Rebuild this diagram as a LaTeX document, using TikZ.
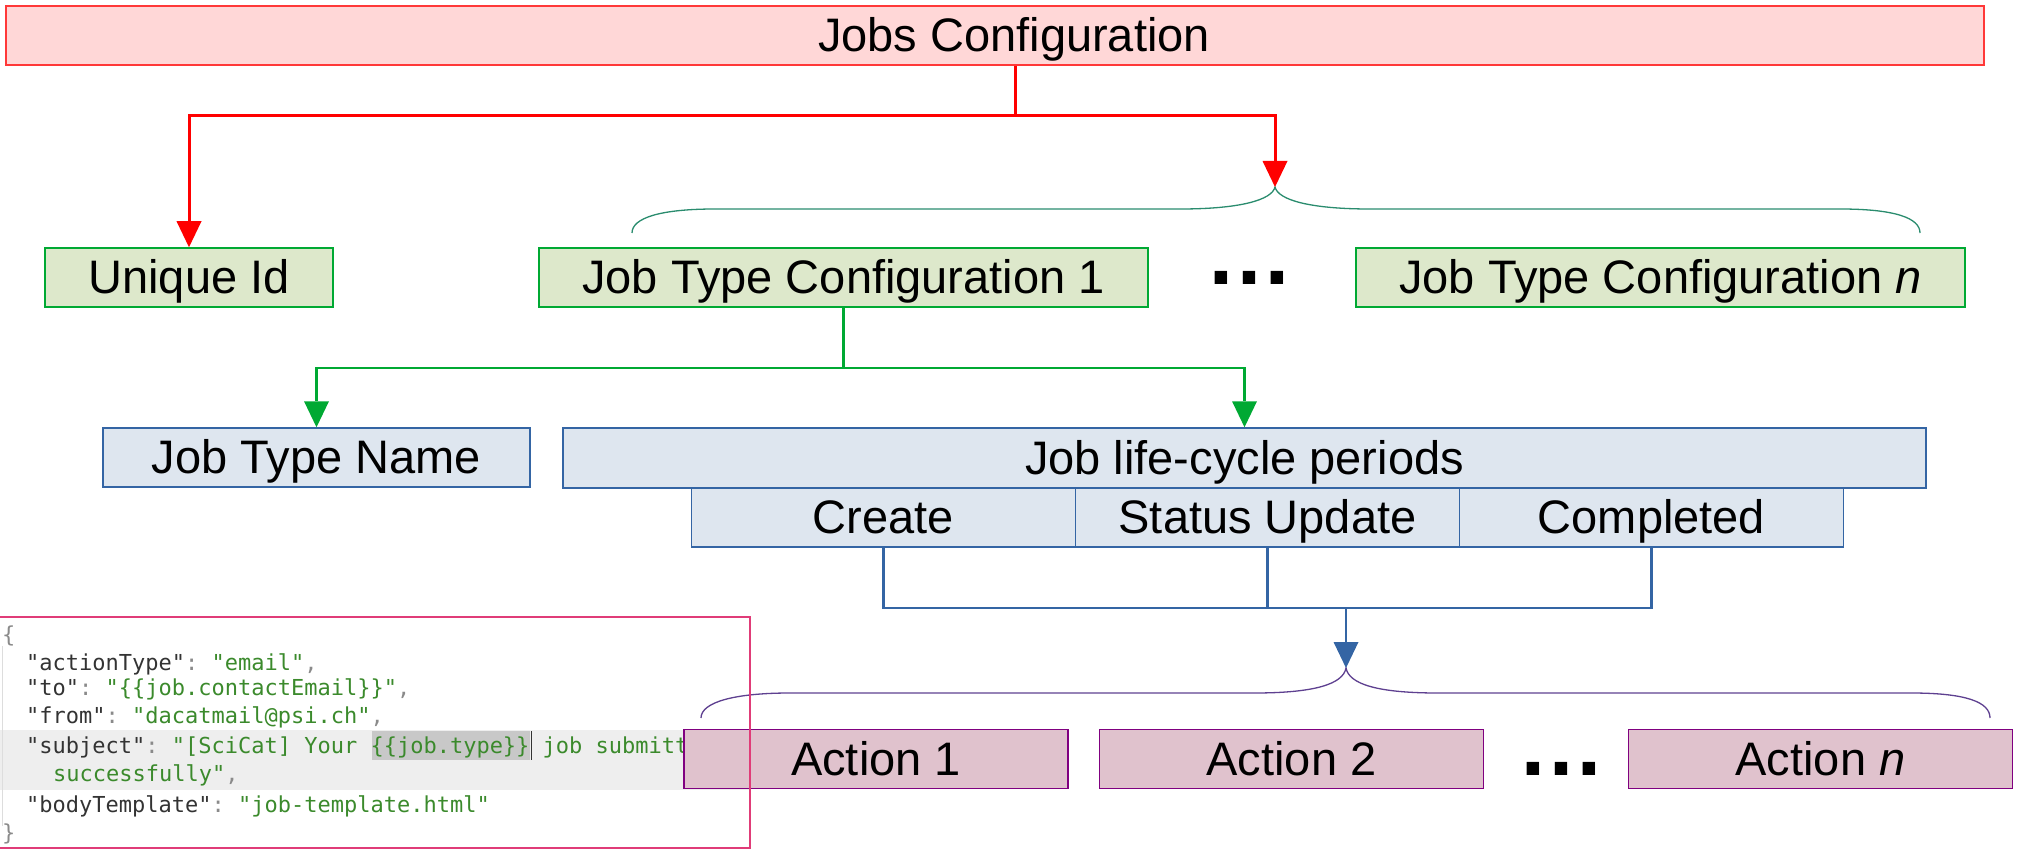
\documentclass[tikz,border=0pt]{standalone}
\usepackage{fontspec}
\setmainfont{Liberation Sans}
\setmonofont{DejaVu Sans Mono}
\usetikzlibrary{arrows.meta}

\definecolor{cfgred}{HTML}{FF3838}
\definecolor{cfgredfill}{HTML}{FFD7D7}
\definecolor{jtgreen}{HTML}{00A933}
\definecolor{jtgreenfill}{HTML}{DDE8CB}
\definecolor{lcblue}{HTML}{3465A4}
\definecolor{lcbluefill}{HTML}{DEE6EF}
\definecolor{actpurple}{HTML}{800080}
\definecolor{actfill}{HTML}{E0C2CD}
\definecolor{bracegreen}{HTML}{2A8C6E}
\definecolor{bracepurple}{HTML}{5E4090}
\definecolor{codeframe}{HTML}{E03C78}
\definecolor{codekey}{HTML}{333333}
\definecolor{codeval}{HTML}{3B8A2C}
\definecolor{codepun}{HTML}{8A8A8A}
\definecolor{codeband}{HTML}{EEEEEE}
\definecolor{codemark}{HTML}{C8C8C8}
\definecolor{codegutter}{HTML}{DDDDDD}

\newcommand{\codefont}{\fontsize{22}{26}\selectfont\ttfamily}
\newcommand{\ckey}[1]{\textcolor{codekey}{#1}}
\newcommand{\cval}[1]{\textcolor{codeval}{#1}}
\newcommand{\cpun}[1]{\textcolor{codepun}{#1}}

\tikzset{
  box/.style={rectangle, draw, line width=1.5pt, inner sep=0pt, minimum height=59pt,
    text height=34pt, text depth=2pt, font=\fontsize{47}{56}\selectfont},
  arrowed/.style={-{Triangle[width=25pt,length=26pt,line width=0pt]}},
  dots/.style={inner sep=0pt, anchor=base, font=\fontsize{88}{90}\selectfont\bfseries},
}

\begin{document}
\begin{tikzpicture}[x=1pt,y=-1pt]
  \useasboundingbox (0,0) rectangle (2023,850);

  % json snippet, lies under the actions
  \fill[codeband] (0,730) rectangle (750,790);
  \fill[codemark] (372,731) rectangle (530,760);
  \draw[codekey,line width=1pt] (531,731) -- (531,760);
  \draw[codegutter,line width=1pt] (2,646) -- (2,826);
  \begin{scope}[every node/.style={anchor=base west,inner sep=0pt,font=\codefont}]
    \node (cl0) at (2,642) {\cpun{\{}};
    \node (cl1) at (26,670) {\ckey{"actionType"}\cpun{:} \cval{"email"}\cpun{,}};
    \node (cl2) at (26,695) {\ckey{"to"}\cpun{:} \cval{"\{\{job.contactEmail\}\}"}\cpun{,}};
    \node (cl3) at (26,723) {\ckey{"from"}\cpun{:} \cval{"dacatmail@psi.ch"}\cpun{,}};
    \node (cl4) at (26,753) {\ckey{"subject"}\cpun{:} \cval{"[SciCat] Your \{\{job.type\}\} job submitted}};
    \node (cl5) at (53,781) {\cval{successfully"}\cpun{,}};
    \node (cl6) at (26,812) {\ckey{"bodyTemplate"}\cpun{:} \cval{"job-template.html"}};
    \node (cl7) at (2,840) {\cpun{\}}};
  \end{scope}

  % boxes
  \begin{scope}[every node/.style={box,draw=cfgred,fill=cfgredfill}]
    \node[minimum width=1978pt] (jobscfg) at (995,35.5) {\hspace*{38pt}Jobs Configuration};
  \end{scope}
  \begin{scope}[every node/.style={box,draw=jtgreen,fill=jtgreenfill}]
    \node[minimum width=288pt] (uniqueid) at (189,277.5) {Unique Id};
    \node[minimum width=609pt] (jtcone) at (843.5,277.5) {Job Type Configuration 1};
    \node[minimum width=609pt] (jtcn) at (1660.5,277.5) {Job Type Configuration \textit{n}};
  \end{scope}
  \begin{scope}[every node/.style={box,draw=lcblue,fill=lcbluefill}]
    \node[minimum width=427pt] (jtname) at (316.5,457.5) {Job Type Name};
    \node[minimum width=1363pt,minimum height=60pt] (lifecycle) at (1244.5,458) {Job life-cycle periods};
    \node[minimum width=384pt] (create) at (883.5,517.5) {Create};
    \node[minimum width=384pt] (status) at (1267.5,517.5) {Status Update};
    \node[minimum width=384pt] (completed) at (1651.5,517.5) {Completed};
  \end{scope}
  \begin{scope}[every node/.style={box,draw=actpurple,fill=actfill}]
    \node[minimum width=384pt] (actone) at (876,759) {Action 1};
    \node[minimum width=384pt] (acttwo) at (1291.5,759) {Action 2};
    \node[minimum width=384pt] (actn) at (1820.5,759) {Action \textit{n}};
  \end{scope}
  \node[dots] (jtcdots) at (1249,284) {…};
  \node[dots] (actdots) at (1561,775) {…};

  % braces
  \coordinate (jtctip) at (1275,187);
  \coordinate (acttip) at (1346,668);
  \draw[bracegreen,line width=1.3pt] (632,233) .. controls (632,218) and (660,209) .. (715,209)
    -- (1180,209) .. controls (1240,209) and (1272,200) .. (jtctip)
    .. controls (1278,200) and (1310,209) .. (1370,209) -- (1840,209)
    .. controls (1895,209) and (1920,218) .. (1920,233);
  \draw[bracepurple,line width=1.3pt] (701,718) .. controls (701,702) and (735,693) .. (790,693)
    -- (1254,693) .. controls (1315,693) and (1343,684) .. (acttip)
    .. controls (1349,684) and (1377,693) .. (1438,693) -- (1911,693)
    .. controls (1966,693) and (1990,702) .. (1990,718);

  % connectors
  \coordinate (redsplit) at (1015,116);
  \coordinate (greensplit) at (843.5,368);
  \coordinate (bluejoin) at (1346,608);
  \begin{scope}[red,line width=3pt]
    \draw (jobscfg.south -| redsplit) -- (redsplit);
    \draw[arrowed] (redsplit) -| (uniqueid.north);
    \draw[arrowed] (redsplit) -| (jtctip);
  \end{scope}
  \begin{scope}[jtgreen,line width=2.5pt]
    \draw (jtcone.south) -- (greensplit);
    \draw[arrowed] (greensplit) -| (jtname.north);
    \draw[arrowed] (greensplit) -| (lifecycle.north);
  \end{scope}
  \begin{scope}[lcblue,line width=2.2pt]
    \draw (create.south) |- (completed.south |- bluejoin) -- (completed.south);
    \draw (status.south) -- (status.south |- bluejoin);
    \draw[arrowed] (bluejoin) -- (acttip);
  \end{scope}

  % frame of the snippet
  \draw[codeframe,line width=1.5pt] (-2,617) rectangle (750,848);
\end{tikzpicture}
\end{document}
